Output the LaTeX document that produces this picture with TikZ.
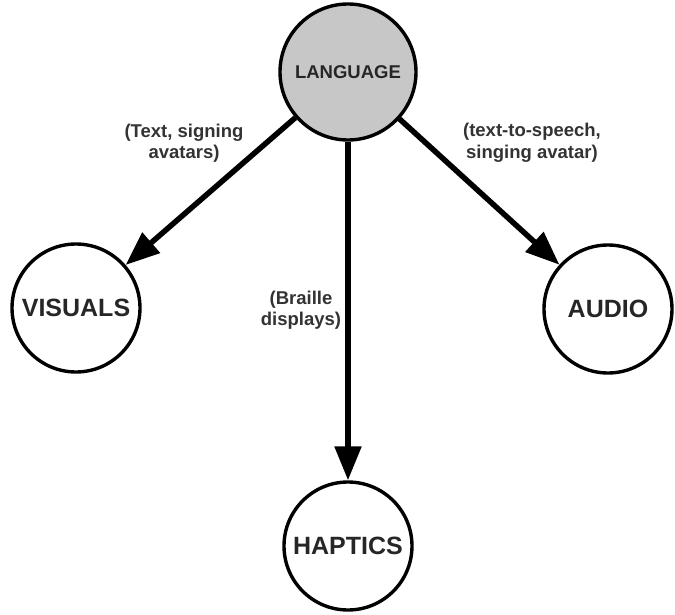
\documentclass[tikz,border=0pt]{standalone}
\usepackage{fontspec}
\setmainfont{Liberation Sans}
\usetikzlibrary{arrows.meta, positioning}
\usepackage{xcolor}
\def\annotfont{\fontsize{18.5}{21.5}\selectfont\bfseries}

\begin{document}
\begin{tikzpicture}[x=1pt, y=-1pt]
    \tikzstyle{topic}=[circle, draw=black, line width=3.4pt, minimum size=128pt, inner sep=0pt, text=black!85, font=\fontsize{25}{30}\selectfont\bfseries]
    \tikzstyle{main topic}=[topic, fill=black!22, minimum size=136pt, font=\fontsize{18.5}{22}\selectfont\bfseries]
    \tikzstyle{link}=[draw=black, line width=5.5pt, -{Triangle[length=34pt, width=26pt]}]
    \tikzstyle{annot}=[align=center, text=black!80, font=\annotfont]

    \useasboundingbox (0,0) rectangle (675,615);

    % Centre node and the three channels
    \node[main topic] (lang) at (348,72) {LANGUAGE};
    \node[topic] (vis) at (76,308) {VISUALS};
    \node[topic] (aud) at (608,309) {AUDIO};
    \node[topic] (hap) at (348,546) {HAPTICS};

    % Connect the centre with every channel
    \foreach \dest in {vis,hap,aud}
        \draw[link] (lang) -- (\dest);

    % Edge annotations
    \node[annot] (vis-note) at (184,143) {(Text, signing\\avatars)};
    \node[annot] (aud-note) at (532,143) {(text-to-speech,\\singing avatar)};
    \node[annot] (hap-note) at (301,310) {(Braille\\displays)};
\end{tikzpicture}
\end{document}
